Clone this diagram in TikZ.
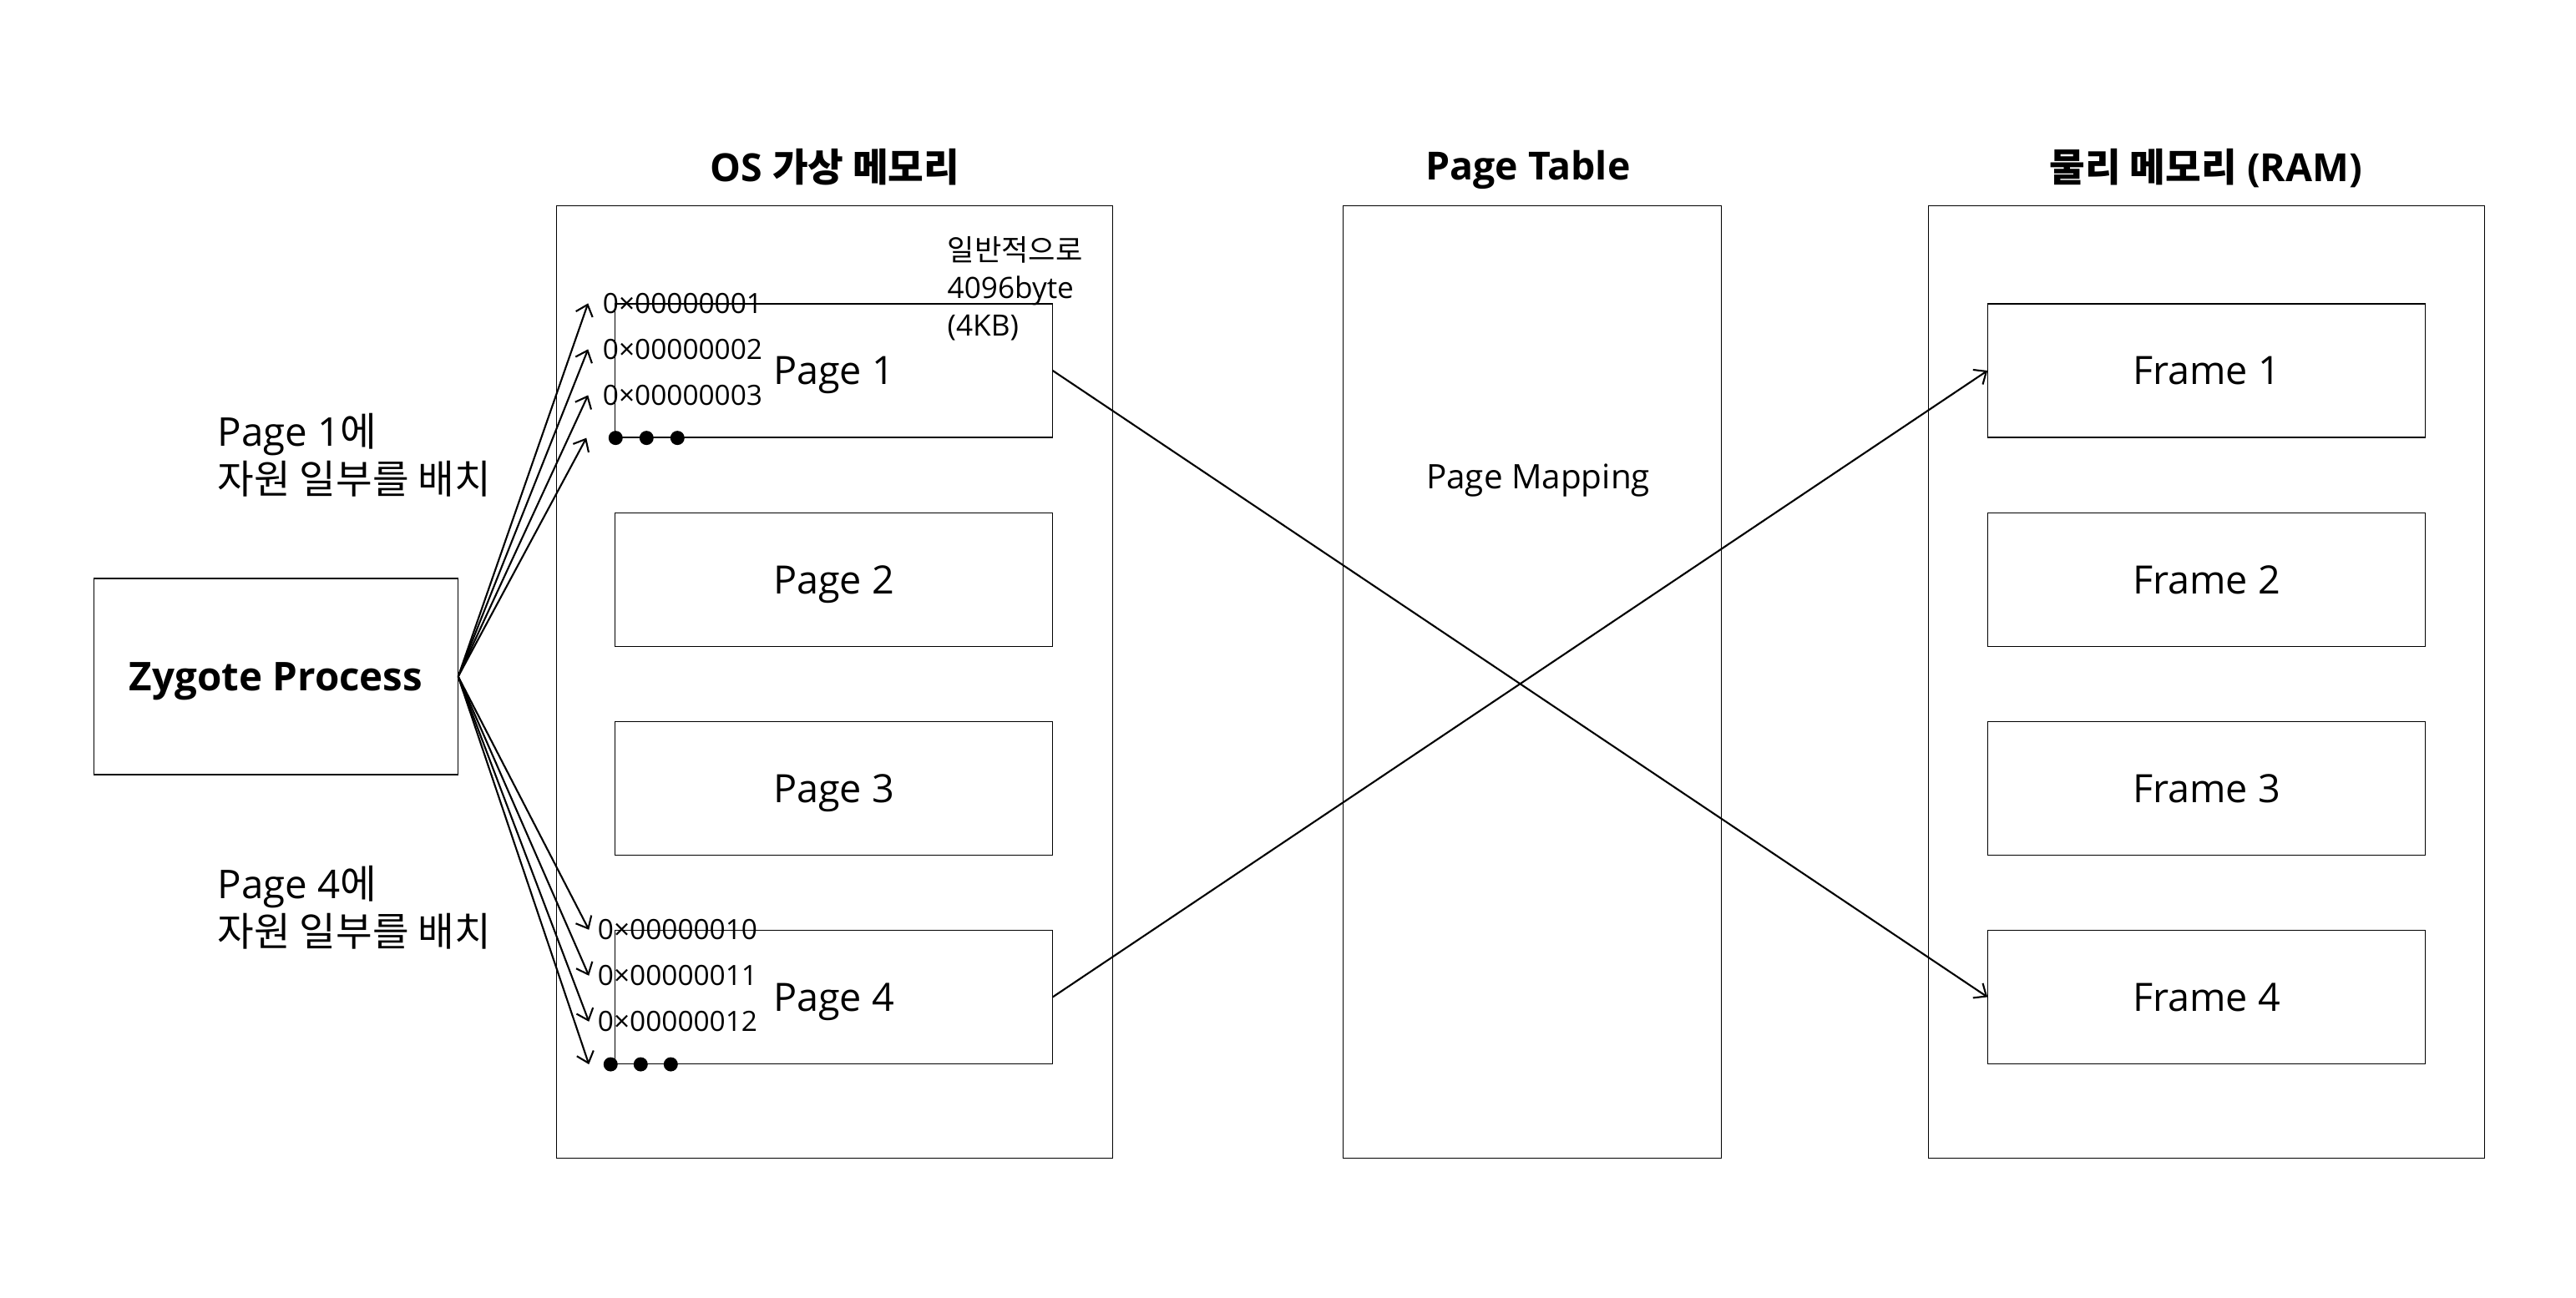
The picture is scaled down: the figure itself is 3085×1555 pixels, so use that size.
\documentclass[tikz,border=0pt]{standalone}
\usepackage{fontspec}
\setmainfont{Open Sans}
\newfontfamily\kr{Noto Sans CJK KR}
\usetikzlibrary{positioning}
\usetikzlibrary{arrows.meta}
\tikzset{box/.style={draw,line width=0.33pt,inner sep=0pt}}
\tikzset{pg/.style={box,minimum width=5.23cm,minimum height=1.6cm,text depth=0pt,font=\fontsize{13.3}{16}\selectfont}}
\tikzset{col/.style={box,minimum height=11.4cm}}
\tikzset{ttl/.style={inner sep=0pt,text depth=0pt,font=\fontsize{13.2}{16}\selectfont\bfseries}}
\tikzset{addr/.style={anchor=west,inner sep=0pt,font=\fontsize{9.5}{11}\selectfont}}
\tikzset{bullet/.style={circle,fill,inner sep=0pt,minimum size=0.17cm}}
\tikzset{ar/.style={-{Straight Barb[length=3.5pt,width=6pt]},line width=0.6pt}}
\tikzset{note/.style={anchor=north west,inner sep=0pt,align=left}}

\begin{document}
\begin{tikzpicture}[x=0.01cm,y=-0.01cm]
\useasboundingbox (0,0) rectangle (3085,1555);

% columns
\node[col,minimum width=6.65cm] (os) at (999.5,817) {};
\node[col,minimum width=4.52cm] (pt) at (1835,817) {};
\node[col,minimum width=6.65cm] (ram) at (2642.5,817) {};
\node[ttl] (osT) at (1000,198) {OS {\kr 가상 메모리}};
\node[ttl] (ptT) at (1830,198) {Page Table};
\node[ttl] (ramT) at (2642,198) {{\kr 물리 메모리} (RAM)};
\node[text depth=0pt,font=\fontsize{11.5}{14}\selectfont] (pm) at (1842,571) {Page Mapping};

\begin{scope}[on grid, node distance=2.5cm]
\node[pg] (p1) at (998.5,444) {Page 1};
\node[pg] (p2) [below = of p1] {Page 2};
\node[pg] (p3) [below = of p2] {Page 3};
\node[pg] (p4) [below = of p3] {Page 4};
\node[pg] (f1) [right = 16.43cm of p1] {Frame 1};
\node[pg] (f2) [below = of f1] {Frame 2};
\node[pg] (f3) [below = of f2] {Frame 3};
\node[pg] (f4) [below = of f3] {Frame 4};

% addresses on page 1
\node[addr] (a1) at ([xshift=-0.15cm]p1.north west) {0×00000001};
\node[addr] (a2) at ([xshift=-0.15cm,yshift=-0.55cm]p1.north west) {0×00000002};
\node[addr] (a3) at ([xshift=-0.15cm,yshift=-1.1cm]p1.north west) {0×00000003};
\node[bullet] (d1) at ([xshift=0.01cm]p1.south west) {};
\node[bullet] (d2) [right = 0.37cm of d1] {};
\node[bullet] (d3) [right = 0.37cm of d2] {};

% addresses on page 4
\node[addr] (b1) at ([xshift=-0.21cm]p4.north west) {0×00000010};
\node[addr] (b2) at ([xshift=-0.21cm,yshift=-0.55cm]p4.north west) {0×00000011};
\node[addr] (b3) at ([xshift=-0.21cm,yshift=-1.1cm]p4.north west) {0×00000012};
\node[bullet] (e1) at ([xshift=-0.05cm]p4.south west) {};
\node[bullet] (e2) [right = 0.36cm of e1] {};
\node[bullet] (e3) [right = 0.36cm of e2] {};
\end{scope}

\node[note,font=\fontsize{10}{12.8}\selectfont] (sz) at (1134,283) {{\kr 일반적으로}\\4096byte\\(4KB)};

\node[box,minimum width=4.35cm,minimum height=2.35cm,text depth=0pt,font=\fontsize{13.5}{16}\selectfont\bfseries] (zyg) at (330.5,810.5) {Zygote Process};
\node[note,font=\fontsize{13.5}{16.2}\selectfont] (n1) at (260,495) {Page 1{\kr 에}\\{\kr 자원 일부를 배치}};
\node[note,font=\fontsize{13.5}{16.2}\selectfont] (n4) at (260,1037) {Page 4{\kr 에}\\{\kr 자원 일부를 배치}};

% arrow tips
\coordinate (t1) at ([xshift=-0.17cm]a1.west);
\coordinate (t2) at ([xshift=-0.17cm]a2.west);
\coordinate (t3) at ([xshift=-0.17cm]a3.west);
\coordinate (t4) at ([xshift=-0.34cm]p1.south west);
\coordinate (s1) at ([xshift=-0.1cm]b1.west);
\coordinate (s2) at ([xshift=-0.1cm]b2.west);
\coordinate (s3) at ([xshift=-0.1cm]b3.west);
\coordinate (s4) at ([xshift=-0.31cm]p4.south west);

\foreach \t in {t1,t2,t3,t4,s1,s2,s3,s4}
  \draw[ar] (zyg.east) -- (\t);

\draw[ar] (p1.east) -- (f4.west);
\draw[ar] (p4.east) -- (f1.west);
\end{tikzpicture}
\end{document}
